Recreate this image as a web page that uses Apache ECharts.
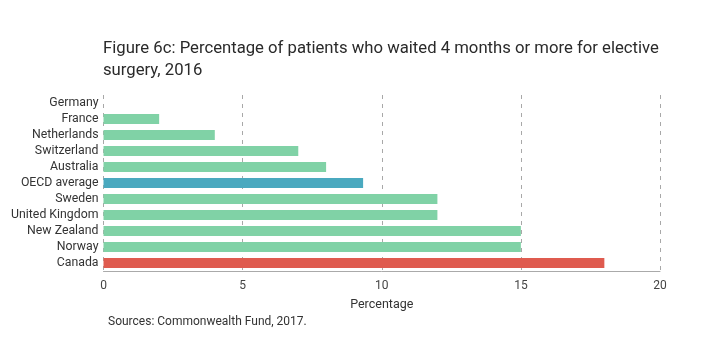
<!DOCTYPE html>
<html><head><meta charset="utf-8">
<script src="https://cdn.jsdelivr.net/npm/echarts@6/dist/echarts.min.js"></script>
<style>html,body{margin:0;padding:0;background:#fff}#c{width:728px;height:357px}</style>
</head><body><div id="c"></div>
<script>
const categories = ["Germany","France","Netherlands","Switzerland","Australia","OECD average","Sweden","United Kingdom","New Zealand","Norway","Canada"];
const values = [0, 2, 4, 7, 8, 9.33, 12, 12, 15, 15, 18];
const xTicks = [0, 5, 10, 15, 20];
const titleText = "Figure 6c: Percentage of patients who waited 4 months or more for elective\nsurgery, 2016";
const sourceText = "Sources: Commonwealth Fund, 2017.";
const colorFor = c => c === "OECD average" ? "#4aa9bf" : (c === "Canada" ? "#df5b4f" : "#80d2a6");

const chart = echarts.init(document.getElementById('c'), null, {renderer:'canvas'});
chart.setOption({
  animation:false,
  backgroundColor:'#fff',
  textStyle:{fontFamily:'Roboto'},
  title:[{
    text:titleText, left:98, top:33,
    textStyle:{fontSize:16.7, fontWeight:'normal', color:'#2a2a2a', lineHeight:22, fontFamily:'Roboto'}
  },{
    text:sourceText, left:103, top:311,
    textStyle:{fontSize:12, fontWeight:'normal', color:'#333', fontFamily:'Roboto'}
  }],
  grid:{left:103.5, right:68, top:95, height:176},
  xAxis:{
    type:'value', min:xTicks[0], max:xTicks[xTicks.length-1], interval:5,
    name:'Percentage', nameLocation:'middle', nameGap:27,
    nameTextStyle:{fontSize:12.5, color:'#333'},
    axisLine:{show:true, lineStyle:{color:'#aaa'}},
    axisTick:{show:false},
    axisLabel:{fontSize:12, color:'#444', margin:9},
    splitLine:{show:true, lineStyle:{type:[4,5], color:'#a8a8a8'}}
  },
  yAxis:{
    type:'category', data:categories, inverse:true,
    axisLine:{show:false}, axisTick:{show:false},
    axisLabel:{fontSize:12.3, color:'#333', margin:5, interval:0, lineHeight:14}
  },
  series:[{
    type:'bar', barWidth:10,
    data: categories.map((c,i)=>({value:values[i], itemStyle:{color:colorFor(c)}}))
  }]
});
</script></body></html>
